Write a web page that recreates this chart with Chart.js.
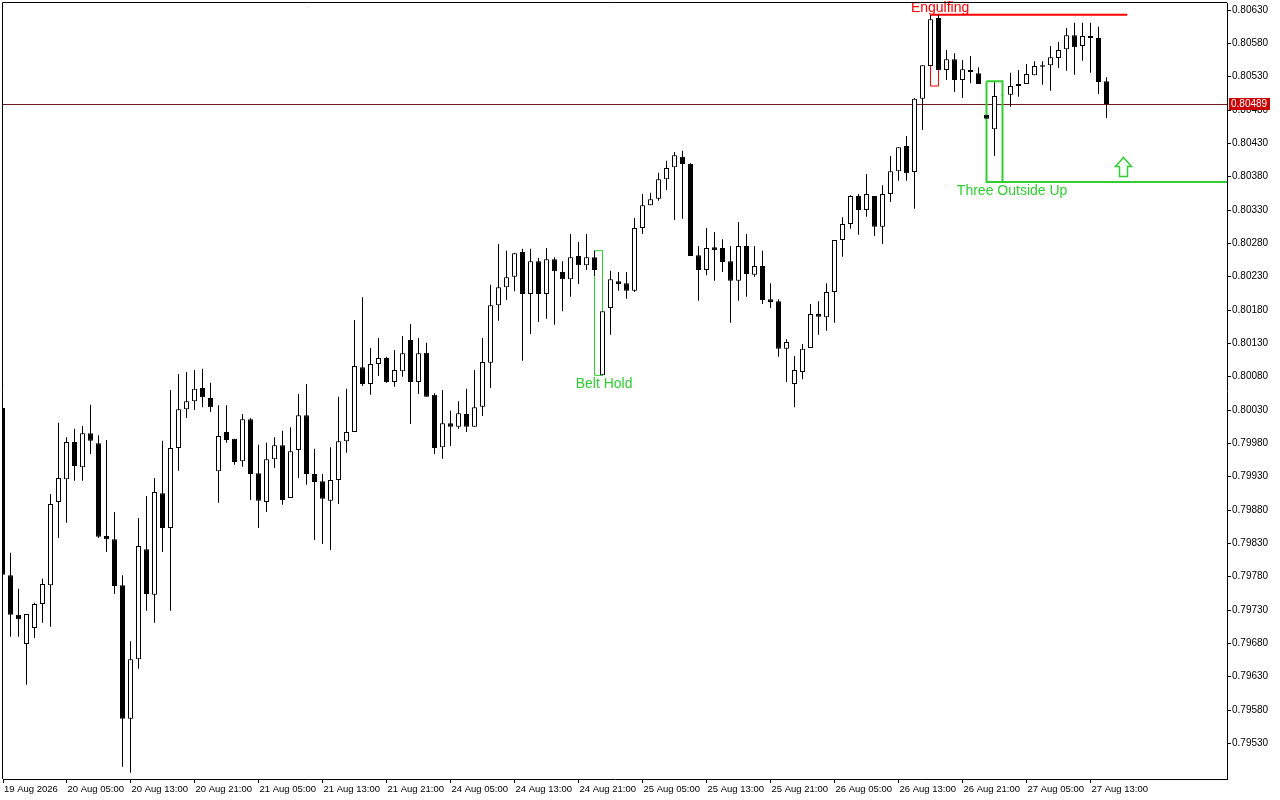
<!DOCTYPE html>
<html>
<head>
<meta charset="utf-8">
<title>H1 candles</title>
<script src="https://cdn.jsdelivr.net/npm/chart.js"></script>
<style>body{margin:0;background:#fff}</style>
</head>
<body>
<canvas id="chart" width="1280" height="800"></canvas>
<script>
// hourly candles, 19 Aug 21:00 .. 27 Aug 14:00
var opens = [0.80033,0.79782,0.79723,0.79679,0.79703,0.79739,0.79767,0.79892,0.79926,0.79982,
  0.79944,0.79995,0.79980,0.79841,0.79836,0.79767,0.79567,0.79656,0.79821,0.79753,
  0.79905,0.79853,0.79973,0.80031,0.80043,0.80063,0.80048,0.79938,0.79997,0.79987,
  0.79953,0.80016,0.79935,0.79892,0.79956,0.79977,0.79898,0.79970,0.80022,0.79934,
  0.79923,0.79894,0.79925,0.79983,0.79997,0.80094,0.80069,0.80099,0.80108,0.80072,
  0.80088,0.80135,0.80072,0.80116,0.80053,0.79974,0.80010,0.80005,0.80024,0.80005,
  0.80035,0.80101,0.80187,0.80214,0.80230,0.80267,0.80204,0.80253,0.80204,0.80256,
  0.80237,0.80226,0.80261,0.80247,0.80259,0.80082,0.80183,0.80223,0.80220,0.80209,
  0.80303,0.80337,0.80347,0.80376,0.80394,0.80410,0.80399,0.80262,0.80240,0.80274,
  0.80273,0.80253,0.80224,0.80276,0.80233,0.80246,0.80196,0.80193,0.80122,0.80069,
  0.80087,0.80123,0.80174,0.80169,0.80207,0.80285,0.80309,0.80351,0.80330,0.80351,
  0.80305,0.80354,0.80388,0.80426,0.80387,0.80497,0.80546,0.80618,0.80540,0.80556,
  0.80525,0.80540,0.80535,0.80473,0.80451,0.80503,0.80503,0.80516,0.80519,0.80532,
  0.80547,0.80547,0.80558,0.80571,0.80592,0.80576,0.80591,0.80588,0.80523];
var highs = [0.80038,0.79816,0.79762,0.79724,0.79741,0.79777,0.79904,0.80011,0.79989,0.80002,
  0.80006,0.80038,0.79992,0.79985,0.79877,0.79782,0.79683,0.79868,0.79901,0.79928,
  0.79984,0.80060,0.80084,0.80087,0.80090,0.80092,0.80071,0.80037,0.80037,0.79987,
  0.80024,0.80018,0.79978,0.79981,0.79989,0.79999,0.80004,0.80054,0.80069,0.79972,
  0.79934,0.79974,0.80050,0.80062,0.80165,0.80199,0.80123,0.80138,0.80110,0.80120,
  0.80141,0.80159,0.80138,0.80131,0.80055,0.80060,0.80029,0.80043,0.80062,0.80090,
  0.80138,0.80218,0.80279,0.80269,0.80266,0.80272,0.80272,0.80258,0.80273,0.80259,
  0.80253,0.80294,0.80282,0.80294,0.80269,0.80178,0.80239,0.80237,0.80237,0.80318,
  0.80354,0.80356,0.80386,0.80404,0.80417,0.80419,0.80400,0.80276,0.80303,0.80297,
  0.80286,0.80276,0.80312,0.80294,0.80276,0.80269,0.80220,0.80196,0.80136,0.80111,
  0.80129,0.80189,0.80193,0.80220,0.80285,0.80319,0.80352,0.80354,0.80384,0.80351,
  0.80367,0.80411,0.80424,0.80441,0.80498,0.80547,0.80623,0.80623,0.80570,0.80565,
  0.80555,0.80561,0.80544,0.80522,0.80523,0.80510,0.80536,0.80540,0.80549,0.80553,
  0.80553,0.80576,0.80582,0.80603,0.80611,0.80611,0.80611,0.80605,0.80529];
var lows = [0.79778,0.79690,0.79690,0.79618,0.79688,0.79711,0.79705,0.79838,0.79861,0.79924,
  0.79924,0.79964,0.79838,0.79817,0.79754,0.79495,0.79486,0.79642,0.79729,0.79711,
  0.79817,0.79729,0.79939,0.80018,0.80030,0.80034,0.80027,0.79891,0.79981,0.79948,
  0.79945,0.79895,0.79853,0.79877,0.79943,0.79888,0.79898,0.79928,0.79918,0.79835,
  0.79829,0.79820,0.79889,0.79966,0.79997,0.80066,0.80053,0.80081,0.80071,0.80065,
  0.80080,0.80009,0.80054,0.80050,0.79964,0.79957,0.79976,0.80002,0.79997,0.80005,
  0.80021,0.80063,0.80164,0.80195,0.80208,0.80104,0.80144,0.80162,0.80167,0.80158,
  0.80178,0.80200,0.80219,0.80240,0.80231,0.80082,0.80143,0.80209,0.80197,0.80207,
  0.80294,0.80337,0.80344,0.80360,0.80315,0.80317,0.80261,0.80194,0.80232,0.80224,
  0.80237,0.80161,0.80194,0.80200,0.80230,0.80189,0.80183,0.80110,0.80072,0.80034,
  0.80076,0.80123,0.80143,0.80149,0.80161,0.80260,0.80302,0.80293,0.80320,0.80291,
  0.80279,0.80342,0.80374,0.80374,0.80332,0.80450,0.80546,0.80540,0.80525,0.80507,
  0.80498,0.80520,0.80519,0.80372,0.80411,0.80492,0.80485,0.80500,0.80519,0.80532,
  0.80518,0.80509,0.80543,0.80539,0.80533,0.80554,0.80536,0.80504,0.80468];
var closes = [0.79783,0.79723,0.79716,0.79724,0.79739,0.79769,0.79889,0.79928,0.79982,0.79946,
  0.79995,0.79984,0.79840,0.79836,0.79766,0.79567,0.79656,0.79826,0.79754,0.79907,
  0.79853,0.79973,0.80031,0.80043,0.80062,0.80049,0.80034,0.79991,0.79985,0.79952,
  0.80016,0.79934,0.79894,0.79956,0.79977,0.79895,0.79968,0.80022,0.79934,0.79922,
  0.79897,0.79925,0.79983,0.79997,0.80096,0.80069,0.80099,0.80108,0.80072,0.80090,
  0.80115,0.80072,0.80115,0.80050,0.79973,0.80010,0.80005,0.80025,0.80005,0.80034,
  0.80102,0.80187,0.80214,0.80229,0.80265,0.80204,0.80253,0.80204,0.80256,0.80238,
  0.80226,0.80259,0.80247,0.80259,0.80240,0.80178,0.80226,0.80219,0.80209,0.80303,
  0.80337,0.80346,0.80376,0.80393,0.80412,0.80399,0.80261,0.80240,0.80273,0.80270,
  0.80252,0.80224,0.80276,0.80234,0.80246,0.80195,0.80192,0.80122,0.80132,0.80090,
  0.80122,0.80174,0.80170,0.80207,0.80285,0.80309,0.80351,0.80330,0.80354,0.80305,
  0.80354,0.80388,0.80424,0.80385,0.80497,0.80547,0.80616,0.80540,0.80556,0.80525,
  0.80541,0.80537,0.80519,0.80467,0.80501,0.80502,0.80516,0.80519,0.80534,0.80546,
  0.80545,0.80559,0.80570,0.80592,0.80574,0.80591,0.80588,0.80522,0.80489];

var tickIndex = [0.0625,8,16,24,32,40,48,56,64,72,80,88,96,104,112,120,128,136];
var tickLabels = ['19 Aug 2026','20 Aug 05:00','20 Aug 13:00','20 Aug 21:00','21 Aug 05:00',
  '21 Aug 13:00','21 Aug 21:00','24 Aug 05:00','24 Aug 13:00','24 Aug 21:00','25 Aug 05:00',
  '25 Aug 13:00','25 Aug 21:00','26 Aug 05:00','26 Aug 13:00','26 Aug 21:00','27 Aug 05:00','27 Aug 13:00'];
var priceTicks = [0.79530,0.79580,0.79630,0.79680,0.79730,0.79780,0.79830,0.79880,0.79930,0.79980,
  0.80030,0.80080,0.80130,0.80180,0.80230,0.80280,0.80330,0.80380,0.80430,0.80480,0.80530,0.80580,0.80630];
var lastPrice = 0.80489;

// candle patterns
var patNames  = ['Belt Hold','Engulfing','Three Outside Up'];
var patFrom   = [74,116,123];
var patTo     = [75,117,125];
var patTop    = [0.80269,0.80623,0.80523];
var patBottom = [0.80082,0.80516,0.80372];
var patColor  = ['#32cd32','#ff0000','#32cd32'];
var patWidth  = [1,1,2];
var patLabelX = [75.2,117.2,126.2];
var patLabelY = [0.80063,0.80627,0.80352];
var arrowX = 140, arrowTop = 0.80409, arrowBottom = 0.80381;

var xMin = 0.0625, xMax = 153.0625;

var bodies = opens.map(function(o, i){ return {x: i, y: [o, closes[i]]}; });
var wicks = lows.map(function(l, i){ return {x: i, y: [l, highs[i]]}; });

var datasets = [
  {type: 'bar', data: bodies, order: 0, grouped: false, barThickness: 5, inflateAmount: 0,
   borderWidth: 1, borderColor: '#000', borderSkipped: false,
   backgroundColor: opens.map(function(o, i){ return closes[i] >= o ? '#fff' : '#000'; })},
  {type: 'bar', data: wicks, order: 2, grouped: false, barThickness: 1, inflateAmount: 0,
   borderWidth: 0, backgroundColor: '#000'}
];

patNames.forEach(function(n, k){
  var a = patFrom[k], b = patTo[k], t = patTop[k], btm = patBottom[k];
  datasets.push({type: 'line', order: k == 2 ? 1 : 3, borderColor: patColor[k], borderWidth: patWidth[k],
    pointRadius: 0, fill: false, tension: 0,
    data: [{x:a,y:t},{x:b,y:t},{x:b,y:btm},{x:a,y:btm},{x:a,y:t}]});
});
// extended levels
datasets.push({type: 'line', order: 3, borderColor: '#ff0000', borderWidth: 2, pointRadius: 0, fill: false,
  data: [{x: patFrom[1], y: patTop[1]}, {x: 140.6, y: patTop[1]}]});
datasets.push({type: 'line', order: 1, borderColor: '#32cd32', borderWidth: 2, pointRadius: 0, fill: false,
  data: [{x: patFrom[2], y: patBottom[2]}, {x: xMax, y: patBottom[2]}]});

var extras = {
  id: 'extras',
  beforeDatasetsDraw: function(chart){
    var ctx = chart.ctx, a = chart.chartArea, y = Math.round(chart.scales.y.getPixelForValue(lastPrice)) + 0.5;
    ctx.save();
    ctx.strokeStyle = '#6e1a1a'; ctx.lineWidth = 1;
    ctx.beginPath(); ctx.moveTo(a.left, y); ctx.lineTo(a.right, y); ctx.stroke();
    ctx.restore();
  },
  afterDatasetsDraw: function(chart){
    var ctx = chart.ctx, xs = chart.scales.x, ys = chart.scales.y;
    ctx.save();
    ctx.font = '14px "Liberation Sans", Arial, sans-serif';
    ctx.textAlign = 'center'; ctx.textBaseline = 'alphabetic';
    patNames.forEach(function(n, k){
      ctx.fillStyle = patColor[k];
      ctx.fillText(n, xs.getPixelForValue(patLabelX[k]), ys.getPixelForValue(patLabelY[k]));
    });
    // up arrow
    var cx = Math.round(xs.getPixelForValue(arrowX)) + 0.5;
    var t = Math.round(ys.getPixelForValue(arrowTop)) + 0.5;
    var b = Math.round(ys.getPixelForValue(arrowBottom)) + 0.5;
    var hb = t + 9;
    ctx.beginPath();
    ctx.moveTo(cx, t); ctx.lineTo(cx + 8, hb); ctx.lineTo(cx + 4, hb); ctx.lineTo(cx + 4, b);
    ctx.lineTo(cx - 4, b); ctx.lineTo(cx - 4, hb); ctx.lineTo(cx - 8, hb); ctx.closePath();
    ctx.fillStyle = '#fff'; ctx.fill();
    ctx.strokeStyle = '#32cd32'; ctx.lineWidth = 1.5; ctx.stroke();
    ctx.restore();
  },
  afterDraw: function(chart){
    var ctx = chart.ctx, a = chart.chartArea, ys = chart.scales.y;
    ctx.save();
    ctx.strokeStyle = '#000'; ctx.lineWidth = 1;
    ctx.beginPath();
    ctx.moveTo(a.left - 0.5, a.bottom); ctx.lineTo(a.left - 0.5, a.top - 0.5); ctx.lineTo(a.right, a.top - 0.5);
    ctx.stroke();
    var y = Math.round(ys.getPixelForValue(lastPrice));
    ctx.fillStyle = '#c80000';
    ctx.fillRect(a.right + 2, y - 6, 41, 12);
    ctx.fillStyle = '#fff';
    ctx.font = '10px "Liberation Sans", Arial, sans-serif';
    ctx.textAlign = 'left'; ctx.textBaseline = 'middle';
    ctx.fillText(lastPrice.toFixed(5), a.right + 4, y);
    ctx.restore();
  }
};

Chart.defaults.font.family = '"Liberation Sans", Arial, sans-serif';
Chart.defaults.font.size = 10;
Chart.defaults.color = '#000';

new Chart(document.getElementById('chart'), {
  type: 'bar',
  data: {datasets: datasets},
  plugins: [extras],
  options: {
    responsive: false,
    animation: false,
    devicePixelRatio: 1,
    layout: {padding: {left: 3, top: 3, right: 0, bottom: 0}},
    plugins: {legend: {display: false}, tooltip: {enabled: false}},
    scales: {
      x: {
        type: 'linear', min: xMin, max: xMax, offset: false,
        grid: {drawOnChartArea: false, drawTicks: true, tickLength: 4, color: '#000', offset: false},
        border: {display: true, color: '#000'},
        ticks: {autoSkip: false, maxRotation: 0, minRotation: 0, align: 'start', padding: 1, labelOffset: 1,
          font: {size: 9.5},
          callback: function(v, i){ return tickLabels[i]; }},
        afterBuildTicks: function(s){ s.ticks = tickIndex.map(function(v){ return {value: v}; }); },
        afterFit: function(s){ s.height = 21; s.paddingLeft = 0; s.paddingRight = 0; }
      },
      y: {
        type: 'linear', position: 'right', min: 0.794765, max: 0.806405,
        grid: {drawOnChartArea: false, drawTicks: true, tickLength: 4, color: '#000'},
        border: {display: true, color: '#000'},
        ticks: {padding: 1, callback: function(v){ return v.toFixed(5); }},
        afterBuildTicks: function(s){ s.ticks = priceTicks.map(function(v){ return {value: v}; }); },
        afterFit: function(s){ s.width = 53; s.paddingTop = 0; s.paddingBottom = 0; }
      }
    }
  }
});
</script>
</body>
</html>
